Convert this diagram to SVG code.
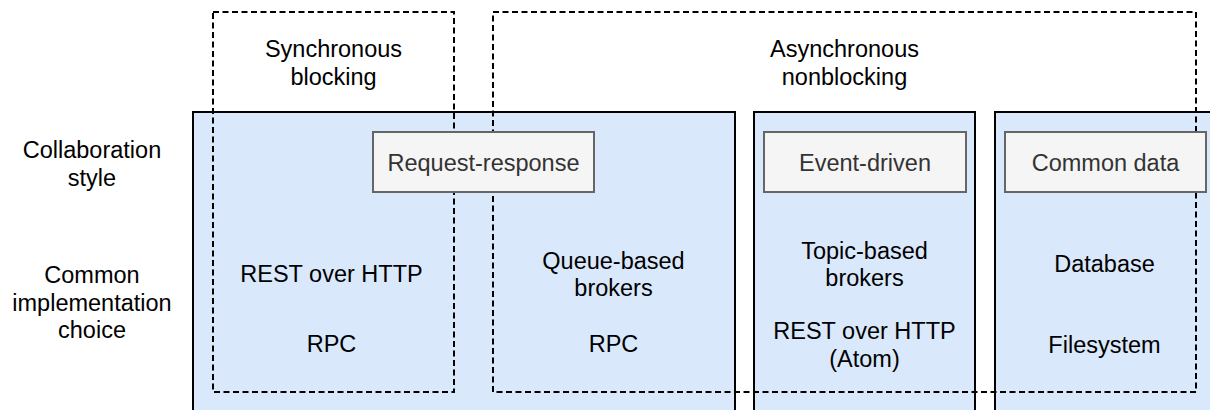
<svg xmlns="http://www.w3.org/2000/svg" width="1210" height="410" viewBox="0 0 1210 410">
  <style>
    .panel { fill: #dae8fc; stroke: #000000; stroke-width: 2; }
    .scope { fill: none; stroke: #000000; stroke-width: 2; stroke-dasharray: 6 3.5; }
    .style { fill: #f5f5f5; stroke: #666666; stroke-width: 2; }
    text { font-family: "Liberation Sans", Arial, sans-serif; font-size: 23.5px; text-anchor: middle; fill: #000000; }
    .style-label { fill: #333333; }
  </style>

  <!-- row headings -->
  <g id="row-collaboration">
    <text x="92" y="158">Collaboration</text>
    <text x="92" y="186">style</text>
  </g>
  <g id="row-implementation">
    <text x="92" y="283">Common</text>
    <text x="92" y="310.5">implementation</text>
    <text x="92" y="338">choice</text>
  </g>

  <!-- collaboration panels -->
  <g id="panel-request-response">
    <rect class="panel" x="193" y="112" width="542" height="310"/>
  </g>
  <g id="panel-event-driven">
    <rect class="panel" x="754" y="112" width="221" height="310"/>
  </g>
  <g id="panel-common-data">
    <rect class="panel" x="995" y="112" width="222" height="310"/>
  </g>

  <!-- blocking / nonblocking scopes -->
  <g id="scope-sync">
    <rect class="scope" x="213" y="12" width="241" height="380"/>
    <text x="333.5" y="57">Synchronous</text>
    <text x="333.5" y="85">blocking</text>
  </g>
  <g id="scope-async">
    <rect class="scope" x="493" y="12" width="703" height="380"/>
    <text x="844.5" y="57">Asynchronous</text>
    <text x="844.5" y="85">nonblocking</text>
  </g>

  <!-- collaboration style labels -->
  <g id="style-request-response">
    <rect class="style" x="373" y="132" width="221" height="60"/>
    <text class="style-label" x="483.5" y="170.5">Request-response</text>
  </g>
  <g id="style-event-driven">
    <rect class="style" x="764" y="132" width="202" height="60"/>
    <text class="style-label" x="865" y="170.5">Event-driven</text>
  </g>
  <g id="style-common-data">
    <rect class="style" x="1005" y="132" width="201" height="60"/>
    <text class="style-label" x="1105.5" y="170.5">Common data</text>
  </g>

  <!-- implementation choices -->
  <g id="impl-sync">
    <text x="331.5" y="281.5">REST over HTTP</text>
    <text x="331.5" y="352">RPC</text>
  </g>
  <g id="impl-queue">
    <text x="613.5" y="268.5">Queue-based</text>
    <text x="613.5" y="295.5">brokers</text>
    <text x="613.5" y="352">RPC</text>
  </g>
  <g id="impl-topic">
    <text x="864.5" y="259">Topic-based</text>
    <text x="864.5" y="286">brokers</text>
    <text x="864.5" y="338.5">REST over HTTP</text>
    <text x="864.5" y="366.5">(Atom)</text>
  </g>
  <g id="impl-data">
    <text x="1104.5" y="272">Database</text>
    <text x="1104.5" y="352.5">Filesystem</text>
  </g>
</svg>
